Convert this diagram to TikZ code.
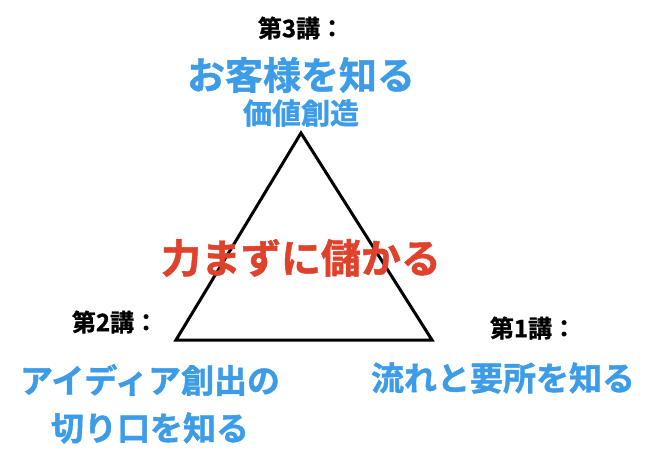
\documentclass[tikz,border=0pt]{standalone}
\usepackage{fontspec}
\setmainfont{Noto Sans CJK JP}[BoldFont={* Bold},BoldFeatures={FakeBold=1.2}]
\definecolor{jblue}{HTML}{3C9CE8}
\definecolor{jred}{HTML}{E0412B}
\begin{document}
\begin{tikzpicture}[x=1pt,y=-1pt,
  lbl/.style={font=\bfseries\fontsize{24}{26}\selectfont,text=black,inner sep=0},
  big/.style={font=\bfseries\fontsize{38}{40}\selectfont,text=jblue,inner sep=0},
  mid/.style={font=\bfseries\fontsize{33}{35}\selectfont,text=jblue,inner sep=0}]
\useasboundingbox (0,0) rectangle (650,457);
\coordinate (t) at (301,133);
\coordinate (l) at (176,340);
\coordinate (r) at (432,340);
\draw[line width=3pt,line join=miter] (t) -- (l) -- (r) -- cycle;
\node[lbl] (h3) at (301,28) {第3講：};
\node[big] (s3) at (301,75) {お客様を知る};
\node[mid,font=\bfseries\fontsize{29}{31}\selectfont] (v3) at (301,113) {価値創造};
\node[inner sep=0,font=\bfseries\fontsize{40}{42}\selectfont,text=jred] (c) at (301,258) {力まずに儲かる};
\node[lbl] (h2) at (115,322) {第2講：};
\node[mid] (s2a) at (150,380) {アイディア創出の};
\node[mid] (s2b) at (150,428) {切り口を知る};
\node[lbl] (h1) at (533,328) {第1講：};
\node[mid] (s1) at (503,378) {流れと要所を知る};
\end{tikzpicture}
\end{document}
